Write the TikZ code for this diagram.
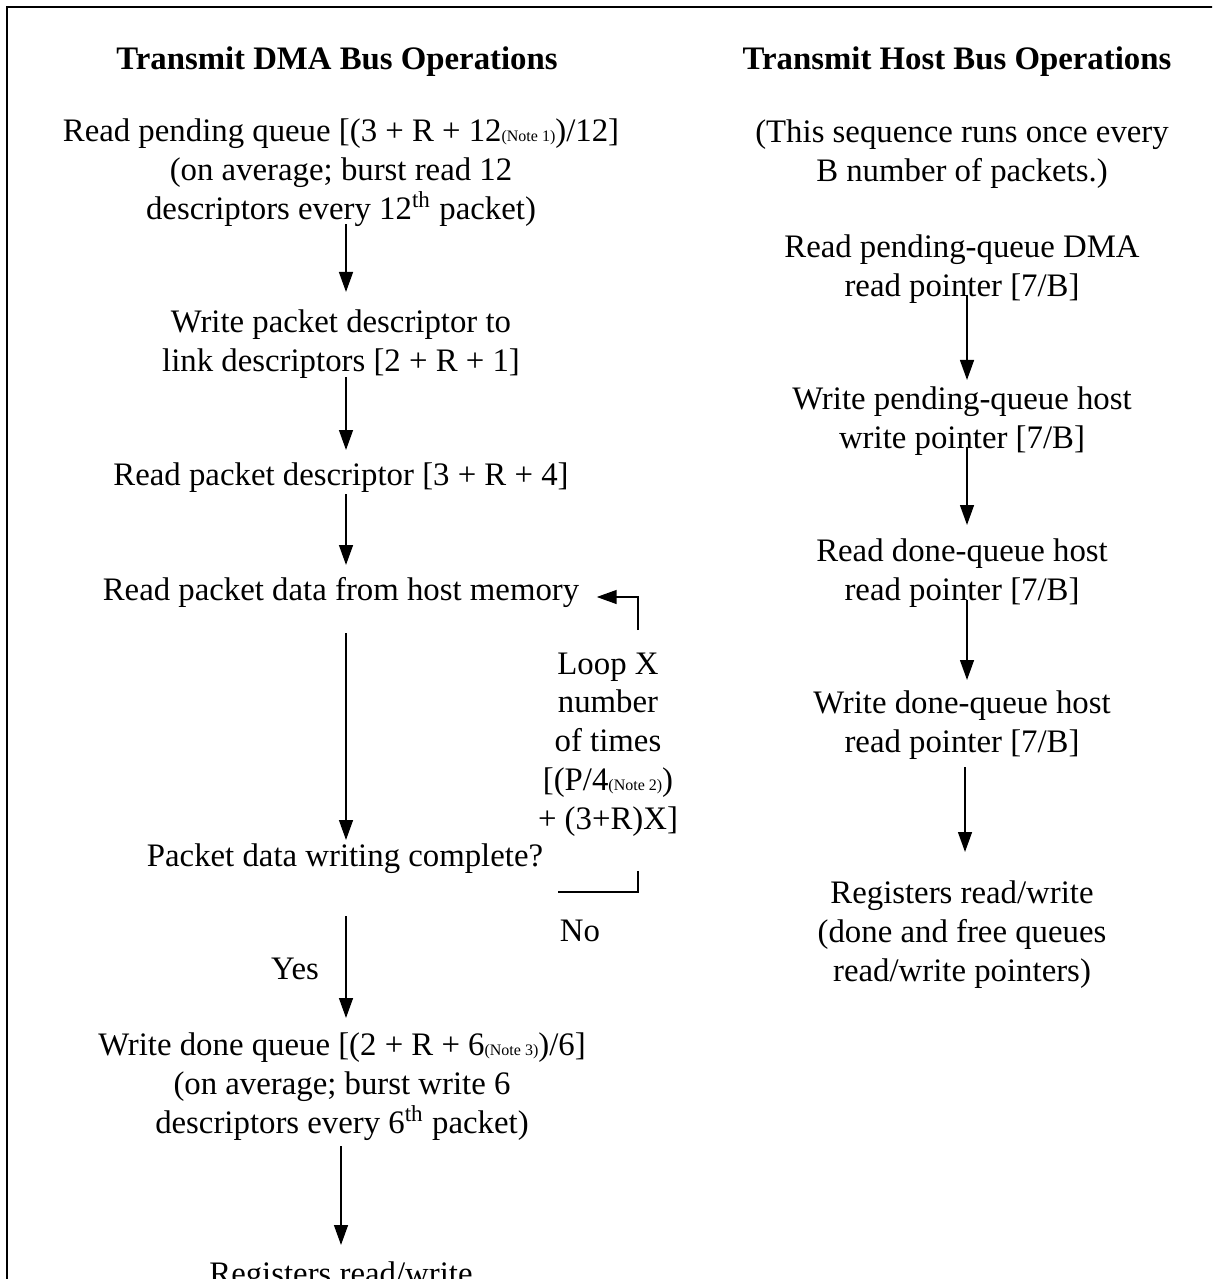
\documentclass[tikz,border=0pt]{standalone}
\usepackage{fontspec}
\setmainfont{Liberation Serif}
\usetikzlibrary{arrows.meta, positioning, calc}

% small note marks inside the formulas
\newcommand{\nt}[1]{{\fontsize{6}{6}\selectfont(Note #1)}}

\begin{document}
\begin{tikzpicture}[x=0.375pt, y=-0.375pt, >={Triangle[width=5.2pt,length=7.5pt]},
  op/.style={align=center, inner sep=0pt, anchor=north,
    font=\fontsize{12.3}{14.6}\selectfont,
    execute at begin node=\strut, execute at end node=\strut},
  head/.style={op, font=\fontsize{12.3}{14.6}\selectfont\bfseries},
  flow/.style={->, line width=0.7pt}]

\useasboundingbox (0,0) rectangle (1212,1279);
\clip (0,0) rectangle (1212,1279);

% frame
\draw[line width=0.9pt] (7,1300) -- (7,7) -- (1240,7);

% headings
\node[head] (h1) at (337,42) {Transmit DMA Bus Operations};
\node[head] (h2) at (957,42) {Transmit Host Bus Operations};

% --- DMA side ---
\node[op] (n1) at (341,118) {Read pending queue [(3 + R + 12\nt{1})/12]\\(on average; burst read 12\\descriptors every 12\textsuperscript{th} packet)};
\node[op] (n2) at (341,309) {Write packet descriptor to\\link descriptors [2 + R + 1]};
\node[op] (n3) at (341,458) {Read packet descriptor [3 + R + 4]};
\node[op] (n4) at (341,573) {Read packet data from host memory};
\node[op] (n5) at (345,839) {Packet data writing complete?};
\node[op] (n6) at (342,1032) {Write done queue [(2 + R + 6\nt{3})/6]\\(on average; burst write 6\\descriptors every 6\textsuperscript{th} packet)};
\node[op] (n7) at (341,1257) {Registers read/write};

\node[op] (lp) at (608,652) {Loop X\\number\\of times\\{}[(P/4\nt{2})\\+ (3+R)X]};
\node[op] (yes) at (295,952) {Yes};
\node[op] (no) at (580,914) {No};

\draw[flow] ($(n1.south)+(5,-7)$) -- ($(n2.north)+(5,-17)$);
\draw[flow] ($(n2.south)+(5,-6)$) -- ($(n3.north)+(5,-8)$);
\draw[flow] ($(n3.south)+(5,-4)$) -- ($(n4.north)+(5,-8)$);
\draw[flow] ($(n4.south)+(5,20)$) -- ($(n5.north)+(1,1)$);
\draw[flow] ($(n5.south)+(1,37)$) -- ($(n6.north)+(4,-14)$);
\draw[flow] ($(n6.south)+(-1,1)$) -- ($(n7.north)+(0,-12)$);

% loop back
\draw[flow] ($(lp.north)+(30,-22)$) |- ($(n4.east)+(17,4)$);
\draw[line width=0.7pt] ($(lp.south)+(30,29)$) -- ++(0,21) -- ++(-80,0);

% --- host side ---
\node[op] (r0) at (962,119) {(This sequence runs once every\\B number of packets.)};
\node[op] (r1) at (962,234) {Read pending-queue DMA\\read pointer [7/B]};
\node[op] (r2) at (962,386) {Write pending-queue host\\write pointer [7/B]};
\node[op] (r3) at (962,538) {Read done-queue host\\read pointer [7/B]};
\node[op] (r4) at (962,690) {Write done-queue host\\read pointer [7/B]};
\node[op] (r5) at (962,880) {Registers read/write\\(done and free queues\\read/write pointers)};

\draw[flow] ($(r1.south)+(5,-13)$) -- ($(r2.north)+(5,-6)$);
\draw[flow] ($(r2.south)+(5,-13)$) -- ($(r3.north)+(5,-13)$);
\draw[flow] ($(r3.south)+(5,-12)$) -- ($(r4.north)+(5,-10)$);
\draw[flow] ($(r4.south)+(3,3)$) -- ($(r5.north)+(3,-28)$);

\end{tikzpicture}
\end{document}
